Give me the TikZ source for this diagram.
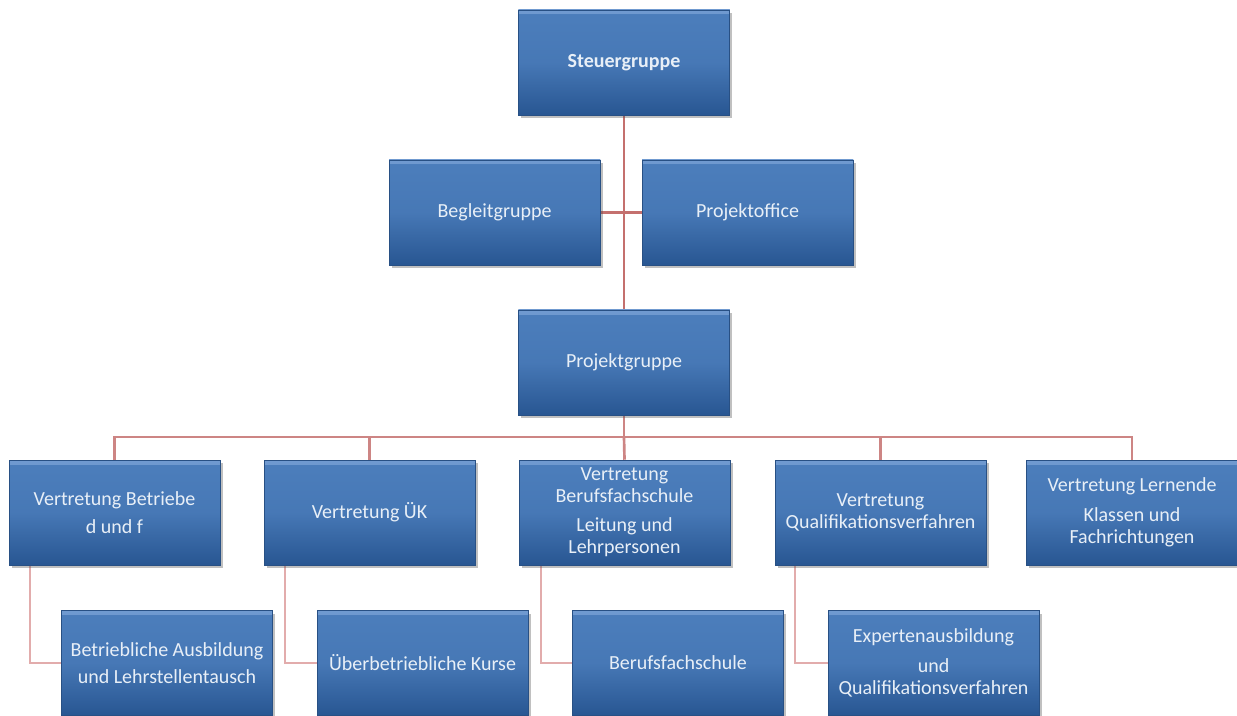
\documentclass[tikz,border=0pt]{standalone}
\usepackage{fontspec}
\setmainfont{Carlito}
\usetikzlibrary{shadows,calc,backgrounds}
\definecolor{boxtop}{RGB}{76,126,188}
\definecolor{boxbot}{RGB}{40,86,146}
\definecolor{boxedge}{RGB}{40,80,132}
\definecolor{bevel}{RGB}{112,154,208}
\definecolor{txt}{RGB}{232,239,247}
\definecolor{lineA}{RGB}{196,112,110}
\definecolor{lineB}{RGB}{226,172,172}
\tikzset{
  orgbox/.style={rectangle, minimum width=158.25pt, minimum height=78.75pt,
    inner sep=2pt, align=center, text=txt,
    font=\fontsize{15pt}{16.5pt}\selectfont,
    top color=boxtop, bottom color=boxbot, middle color=boxtop!85!boxbot,
    draw=boxedge, line width=0.4pt,
    drop shadow={shadow xshift=2pt, shadow yshift=-2.5pt, opacity=0.35, fill=black!70},
    path picture={\shade[top color=bevel, bottom color=boxtop]
      (path picture bounding box.north west) rectangle
      ([yshift=-3pt]path picture bounding box.north east);}},
  mainline/.style={draw=lineA, line width=2.2pt},
  busline/.style={draw=lineA!85!white, line width=2pt},
  subline/.style={draw=lineB, line width=1.5pt}
}
\begin{document}
\begin{tikzpicture}[x=0.75pt,y=-0.75pt]
\useasboundingbox (0,0) rectangle (1237,716);
% top part
\node[orgbox, font=\fontsize{15pt}{16.5pt}\selectfont\bfseries] (steuer) at (624,62.5) {Steuergruppe};
\node[orgbox] (begleit) at (494.5,212.5) {Begleitgruppe};
\node[orgbox] (office) at (747.5,212.5) {Projektoffice};
\node[orgbox] (projekt) at (624,362.5) {Projektgruppe};
% second row
\node[orgbox] (vb) at (114.5,512.5) {Vertretung Betriebe\\[4pt]d und f};
\node[orgbox] (vuk) at (369.5,512.5) {Vertretung ÜK};
\node[orgbox] (vbfs) at (624.5,512.5) {Vertretung\\Berufsfachschule\\[5pt]Leitung und\\Lehrpersonen};
\node[orgbox] (vqv) at (880.5,512.5) {Vertretung\\Qualifikationsverfahren};
\node[orgbox] (vl) at (1132,512.5) {Vertretung Lernende\\[6pt]Klassen und\\Fachrichtungen};
% third row
\node[orgbox] (ba) at (167,663) {Betriebliche Ausbildung\\[4pt]und Lehrstellentausch};
\node[orgbox] (uk) at (422.5,663) {Überbetriebliche Kurse};
\node[orgbox] (bfs) at (678,663) {Berufsfachschule};
\node[orgbox] (exp) at (933.5,663) {Expertenausbildung\\[6pt]und\\Qualifikationsverfahren};
% junction of the bus
\coordinate (bus) at (624,437);
\begin{scope}[on background layer]
\fill[white] (0,0) rectangle (1237,716);
\draw[mainline] (steuer.south) -- (projekt.north);
\draw[mainline] (begleit.east) -- (office.west);
\draw[busline] (projekt.south) -- (bus);
\draw[busline] (bus) -| (vb.north);
\draw[busline] (bus) -| (vuk.north);
\draw[busline] (bus) -- (vbfs.north);
\draw[busline] (bus) -| (vqv.north);
\draw[busline] (bus) -| (vl.north);
\draw[subline] ($(vb.south west)+(21,0)$) |- (ba.west);
\draw[subline] ($(vuk.south west)+(21,0)$) |- (uk.west);
\draw[subline] ($(vbfs.south west)+(22,0)$) |- (bfs.west);
\draw[subline] ($(vqv.south west)+(20,0)$) |- (exp.west);
\end{scope}
\end{tikzpicture}
\end{document}
